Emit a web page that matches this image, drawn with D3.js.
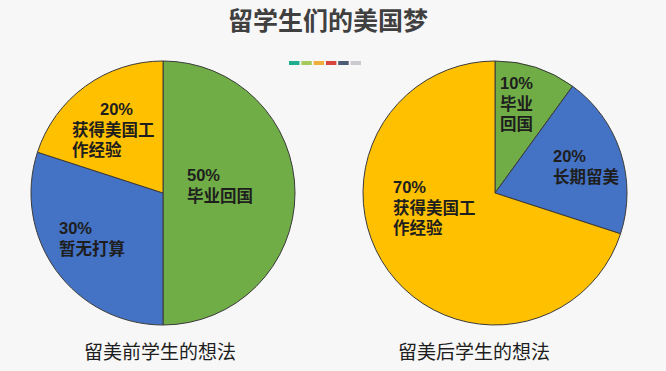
<!DOCTYPE html>
<html><head><meta charset="utf-8">
<script src="https://cdn.jsdelivr.net/npm/d3@7/dist/d3.min.js"></script>
<style>
html,body{margin:0;padding:0;background:#f7f7f7;}
svg{display:block;}
text{font-family:"Liberation Sans","Noto Sans CJK SC",sans-serif;}
</style></head>
<body>
<svg id="c" width="666" height="371"></svg>
<script>
const title = "留学生们的美国梦";
const pieTitles = ["留美前学生的想法", "留美后学生的想法"];
const beforeCategories = ["毕业回国", "暂无打算", "获得美国工作经验"];
const beforeValues = [50, 30, 20];
const afterCategories = ["毕业回国", "长期留美", "获得美国工作经验"];
const afterValues = [10, 20, 70];
// label line breaks as in the picture
const beforeLabelLines = [["毕业回国"], ["暂无打算"], ["获得美国工", "作经验"]];
const afterLabelLines = [["毕业", "回国"], ["长期留美"], ["获得美国工", "作经验"]];
const decoColors = ["#1fae8e", "#a6c95c", "#f0ae3c", "#d6463f", "#4d5c75", "#cacad0"];

const svg = d3.select("#c");
const colorMap = {"毕业回国": "#70ad47", "暂无打算": "#4472c4", "长期留美": "#4472c4", "获得美国工作经验": "#ffc000"};

svg.append("text").attr("x", 328).attr("y", 30).attr("text-anchor", "middle")
  .attr("font-size", 25).attr("font-weight", "bold").attr("fill", "#404040").text(title);

const deco = d3.scaleBand().domain(d3.range(decoColors.length)).range([289, 361]).paddingInner(0.15);
svg.selectAll("rect.deco").data(decoColors).join("rect").attr("class", "deco")
  .attr("x", (d, i) => deco(i)).attr("y", 61).attr("width", deco.bandwidth()).attr("height", 4)
  .attr("fill", d => d);

const R = 132;
const pie = d3.pie().sort(null).value(d => d.v);
const arc = d3.arc().innerRadius(0).outerRadius(R);

// label offsets (relative to pie centre), per slice
const layouts = [
  {cx: 163, cy: 193, tx: 160, labels: [
    {x: 24, y: -18, lx: [24, 24]},
    {x: -104, y: 35, lx: [-104, -104]},
    {x: -63, y: -84, lx: [-91, -91, -91]}
  ]},
  {cx: 495, cy: 193, tx: 474, labels: [
    {x: 5, y: -110, lx: [5, 5, 5]},
    {x: 58, y: -37, lx: [58, 58]},
    {x: -102, y: -6, lx: [-102, -102, -102]}
  ]}
];

const sets = [
  {cats: beforeCategories, vals: beforeValues, lines: beforeLabelLines},
  {cats: afterCategories, vals: afterValues, lines: afterLabelLines}
];

sets.forEach((s, k) => {
  const L = layouts[k];
  const data = s.cats.map((c, i) => ({c, v: s.vals[i], lines: s.lines[i]}));
  const g = svg.append("g").attr("transform", `translate(${L.cx},${L.cy})`);
  const arcs = pie(data);
  g.selectAll("path").data(arcs).join("path").attr("d", arc)
    .attr("fill", d => colorMap[d.data.c]).attr("stroke", "#3a3a3a").attr("stroke-width", 1);
  arcs.forEach((a, i) => {
    const lab = L.labels[i];
    const all = [a.data.v + "%"].concat(a.data.lines);
    all.forEach((line, j) => {
      g.append("text").attr("font-size", 16.5).attr("font-weight", "bold").attr("fill", "#1e1e1e")
        .attr("x", j === 0 ? lab.x : lab.lx[j - 1]).attr("y", lab.y + j * 20.5 + 6)
        .text(line);
    });
  });
  svg.append("text").attr("x", L.tx).attr("y", 359).attr("text-anchor", "middle")
    .attr("font-size", 19).attr("fill", "#1e1e1e").text(pieTitles[k]);
});
</script>
</body></html>
